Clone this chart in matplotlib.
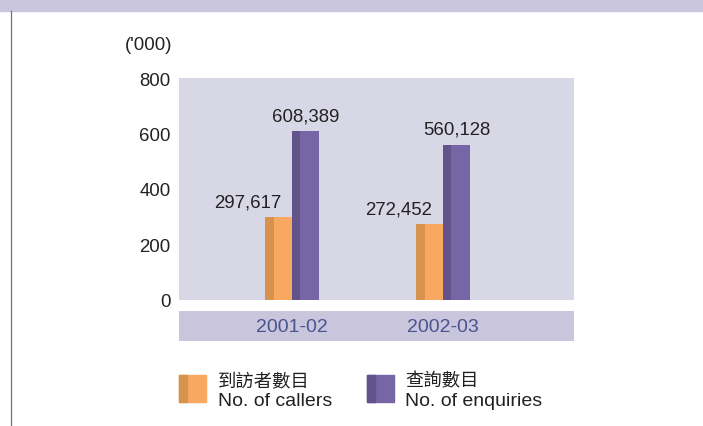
import matplotlib
matplotlib.use('Agg')
import matplotlib.pyplot as plt
from matplotlib.patches import Rectangle

# data
years = ['2001-02', '2002-03']
callers = [297.617, 272.452]          # '000
enquiries = [608.389, 560.128]        # '000
caller_labels = ['297,617', '272,452']
enquiry_labels = ['608,389', '560,128']
y_ticks = [0, 200, 400, 600, 800]

orange = '#F9A862'
orange_dk = '#D8924F'
purple = '#7766A5'
purple_dk = '#62548A'
plot_bg = '#D8D7E6'
band = '#C8C5DC'
year_col = '#4A5590'

plt.rcParams['font.family'] = ['Liberation Sans', 'Noto Sans CJK TC', 'DejaVu Sans']

W, H = 703, 427
fig = plt.figure(figsize=(W / 100, H / 100), dpi=100)


def fx(px):
    return px / W


def fy(py):
    return 1 - py / H


# top band and left rule
fig.patches.append(Rectangle((0, fy(12)), 1, 12 / H, transform=fig.transFigure,
                             color=band, zorder=0))
fig.add_artist(plt.Line2D([fx(10.5), fx(10.5)], [0, fy(12)], color='#6E6A94', lw=0.9))

# main plot area
ax = fig.add_axes([fx(179), fy(301), fx(574) - fx(179), (301 - 79) / H])
ax.set_facecolor(plot_bg)
for s in ax.spines.values():
    s.set_visible(False)

w = 27 / 151
x = range(len(years))
xo = [i - w for i in x]
xp = [i for i in x]
ax.bar(xo, callers, width=w, align='edge', color=orange, zorder=2)
ax.bar(xo, callers, width=w * 0.32, align='edge', color=orange_dk, zorder=3)
ax.bar(xp, enquiries, width=w, align='edge', color=purple, zorder=2)
ax.bar(xp, enquiries, width=w * 0.29, align='edge', color=purple_dk, zorder=3)

for i in x:
    ax.annotate(caller_labels[i], (xo[i] + w * 0.6, callers[i]), xytext=(0, 5),
                textcoords='offset points', ha='right', va='bottom',
                fontsize=13.4, color='#222222')
    ax.annotate(enquiry_labels[i], (xp[i] + w / 2, enquiries[i]), xytext=(0, 5),
                textcoords='offset points', ha='center', va='bottom',
                fontsize=13.4, color='#222222')

ax.set_xlim(-0.748, 1.868)
ax.set_ylim(0, 800)
ax.set_yticks(y_ticks)
ax.set_yticklabels([str(v) for v in y_ticks], fontsize=13.4, color='#222222')
ax.tick_params(axis='y', length=0, pad=6)
ax.set_xticks([])

fig.text(fx(125), fy(45), "('000)", fontsize=13.4, color='#222222', va='center', ha='left')

# year band
bx = fig.add_axes([fx(179), fy(342), fx(574) - fx(179), 30 / H])
bx.set_facecolor(band)
for s in bx.spines.values():
    s.set_visible(False)
bx.set_xlim(ax.get_xlim())
bx.set_ylim(0, 1)
bx.set_xticks([])
bx.set_yticks([])
for i in x:
    bx.text(i, 0.5, years[i], ha='center', va='center', fontsize=14, color=year_col)

# legend
legend = [(179, orange, orange_dk, '到訪者數目', 'No. of callers', 218),
          (367, purple, purple_dk, '查詢數目', 'No. of enquiries', 405)]
for px, c, cd, zh, en, tx in legend:
    fig.patches.append(Rectangle((fx(px), fy(403)), 27 / W, 27 / H,
                                 transform=fig.transFigure, color=c))
    fig.patches.append(Rectangle((fx(px), fy(403)), 8 / W, 27 / H,
                                 transform=fig.transFigure, color=cd))
    fig.text(fx(tx), fy(381), zh, fontsize=13.2, family=['Noto Sans CJK TC'],
             va='center', color='#222222')
    fig.text(fx(tx), fy(402), en, fontsize=14, va='center', color='#222222')

fig.savefig('out.png', dpi=100)
